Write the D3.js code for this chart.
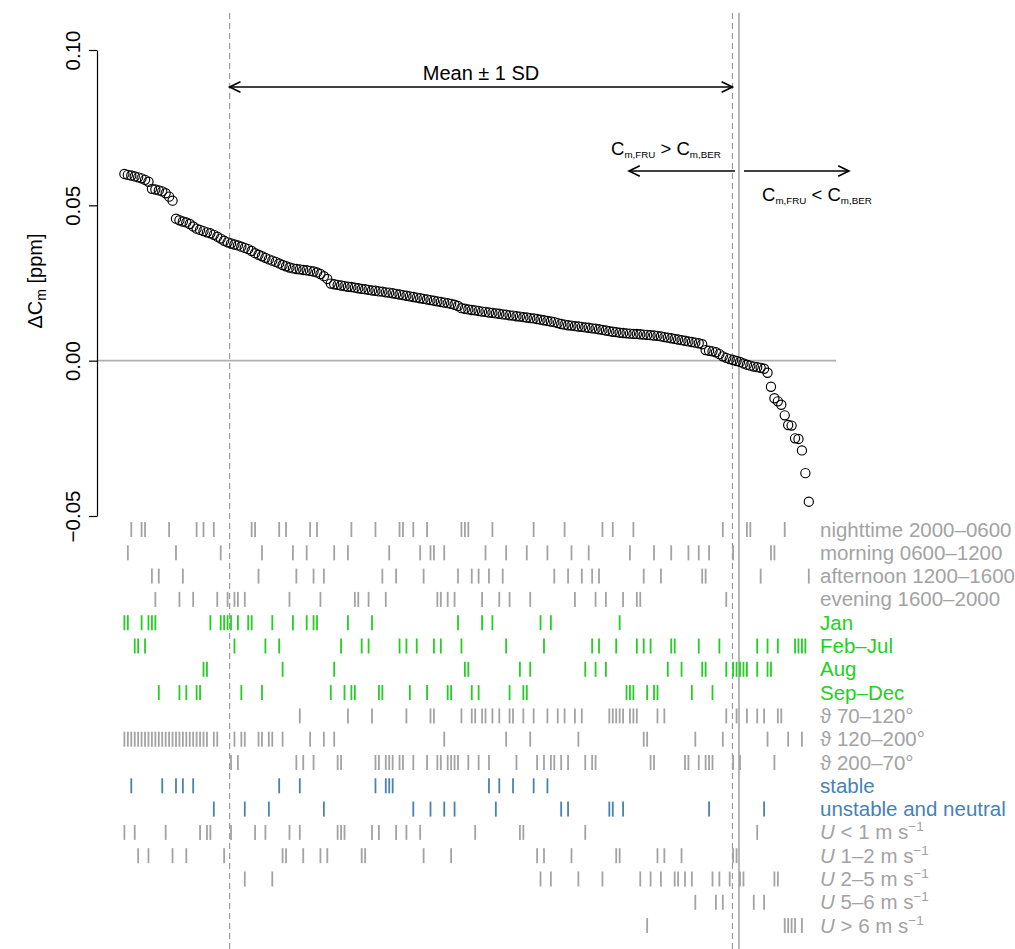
<!DOCTYPE html>
<html>
<head>
<meta charset="utf-8">
<script src="https://cdn.jsdelivr.net/npm/d3@7"></script>
<style>
  body { margin: 0; background: #fff; }
  svg { display: block; }
  text { font-family: "Liberation Sans", Arial, Helvetica, sans-serif; }
</style>
</head>
<body>
<svg id="chart" width="1015" height="949"></svg>
<script>
// Sorted concentration differences (ppm), one value per sample
const deltaC = [
  0.0601, 0.0598, 0.0596, 0.0593, 0.0590, 0.0587, 0.0582, 0.0576,
  0.0553, 0.0551, 0.0548, 0.0545, 0.0539, 0.0528, 0.0515,
  0.0457, 0.0452, 0.0448, 0.0445, 0.0440, 0.0432, 0.0425, 0.0421, 0.0417, 0.0413,
  0.0410, 0.0405, 0.0399, 0.0393, 0.0386, 0.0381,
  0.0377, 0.0374, 0.0371, 0.0367, 0.0363, 0.0359, 0.0353, 0.0346, 0.0341, 0.0336,
  0.0331, 0.0326, 0.0322, 0.0318, 0.0313, 0.0308, 0.0304, 0.0300, 0.0297,
  0.0295, 0.0294, 0.0292, 0.0291, 0.0289, 0.0287, 0.0284, 0.0279, 0.0272, 0.0263,
  0.0248, 0.0246, 0.0244, 0.0242, 0.0240, 0.0238, 0.0237, 0.0235, 0.0233, 0.0231,
  0.0230, 0.0228, 0.0226, 0.0225, 0.0223, 0.0222, 0.0220, 0.0219, 0.0217, 0.0215,
  0.0213, 0.0211, 0.0209, 0.0207, 0.0205, 0.0203, 0.0201, 0.0199, 0.0197, 0.0195,
  0.0193, 0.0191, 0.0189, 0.0187, 0.0185, 0.0183, 0.0180, 0.0176,
  0.0169, 0.0167, 0.0165, 0.0163, 0.0162, 0.0160, 0.0158, 0.0157, 0.0155, 0.0154,
  0.0152, 0.0151, 0.0149, 0.0148, 0.0146, 0.0145, 0.0143, 0.0142, 0.0140, 0.0139,
  0.0137, 0.0136, 0.0134, 0.0132, 0.0130, 0.0128, 0.0126, 0.0124, 0.0121, 0.0118,
  0.0116, 0.0114, 0.0113, 0.0111, 0.0110, 0.0109, 0.0107, 0.0106, 0.0104, 0.0103,
  0.0101, 0.0099, 0.0097, 0.0095, 0.0093, 0.0092, 0.0090, 0.0089, 0.0088, 0.0087,
  0.0086, 0.0086, 0.0085, 0.0084, 0.0083, 0.0082, 0.0081, 0.0080, 0.0078, 0.0076,
  0.0074, 0.0072, 0.0070, 0.0068, 0.0066, 0.0064, 0.0062, 0.0060, 0.0058, 0.0056,
  0.0053,
  0.0034, 0.0032, 0.0030, 0.0027, 0.0021, 0.0014, 0.0009, 0.0005, 0.0002, -0.0001,
  -0.0004, -0.0009, -0.0013, -0.0016, -0.0019, -0.0021, -0.0023, -0.0026,
  -0.0039, -0.0084, -0.0121, -0.0131, -0.0142, -0.0176, -0.0207, -0.0209,
  -0.0250, -0.0252, -0.0289, -0.0362, -0.0454
];

// Y axis tick values (ppm)
const yTicks = [-0.05, 0.00, 0.05, 0.10];

// Positions along the sorted series (sample index) of the reference lines
const sdLimits = [30.6, 176.8];   // where the series crosses mean + SD and mean - SD
const zeroCrossing = 178.7;       // where the series changes sign

// Sample indices falling in each condition class
const nighttime = [2, 5, 6, 13, 21, 23, 26, 37, 38, 45, 47, 54, 56, 66, 73, 80, 81, 84, 88, 98, 99, 100, 107, 119, 128, 139, 142, 148, 174, 181, 182, 192];
const morning = [1, 15, 28, 40, 49, 53, 61, 65, 77, 86, 89, 90, 93, 105, 111, 117, 123, 130, 135, 147, 154, 159, 164, 167, 170, 177, 188, 189];
const afternoon = [8, 10, 17, 39, 50, 55, 58, 75, 79, 87, 97, 101, 103, 106, 110, 125, 129, 133, 136, 138, 151, 156, 168, 169, 185, 199];
const evening = [9, 16, 20, 27, 30, 32, 33, 35, 48, 57, 67, 68, 71, 76, 91, 92, 94, 96, 104, 109, 112, 118, 131, 137, 140, 145, 149, 150, 175];
const jan = [0, 1, 5, 7, 8, 9, 25, 28, 29, 30, 31, 33, 36, 37, 43, 49, 53, 55, 56, 65, 72, 97, 104, 107, 121, 124, 144];
const febJul = [3, 4, 6, 32, 41, 45, 63, 69, 71, 80, 82, 85, 90, 92, 98, 111, 122, 136, 138, 143, 149, 151, 153, 159, 160, 167, 173, 184, 187, 190, 195, 196, 197, 198];
const aug = [23, 24, 46, 61, 99, 100, 115, 118, 134, 137, 140, 158, 162, 168, 169, 175, 177, 178, 179, 180, 181, 184, 187, 188];
const sepDec = [10, 16, 18, 21, 22, 34, 40, 60, 64, 66, 67, 74, 75, 83, 88, 94, 95, 101, 103, 112, 116, 117, 146, 147, 148, 152, 154, 155, 165, 171];
const dir70to120 = [51, 65, 72, 82, 89, 90, 98, 101, 102, 104, 105, 107, 109, 112, 113, 116, 119, 123, 126, 128, 131, 133, 141, 142, 143, 144, 145, 147, 148, 149, 155, 157, 175, 178, 181, 184, 186, 190, 191];
const dir120to200 = [0, 1, 2, 3, 4, 5, 6, 7, 8, 9, 10, 11, 12, 13, 14, 15, 16, 17, 18, 19, 20, 21, 22, 23, 24, 26, 27, 32, 34, 35, 39, 40, 42, 43, 46, 54, 58, 61, 93, 111, 118, 132, 151, 152, 166, 174, 187, 193, 197];
const dir200to70 = [31, 33, 50, 52, 55, 62, 63, 73, 74, 76, 77, 78, 80, 81, 84, 88, 91, 92, 94, 95, 96, 97, 100, 103, 106, 114, 120, 122, 124, 125, 127, 129, 134, 136, 137, 153, 154, 163, 164, 167, 169, 170, 171, 177, 179, 189];
const stable = [2, 11, 15, 17, 20, 45, 51, 73, 76, 77, 78, 106, 109, 113, 119, 123];
const unstableNeutral = [26, 35, 42, 58, 84, 89, 93, 96, 108, 127, 129, 141, 142, 145, 170, 186];
const windBelow1 = [0, 3, 12, 22, 24, 25, 31, 38, 41, 48, 51, 62, 63, 64, 72, 74, 79, 82, 86, 102, 115, 116, 134, 184];
const wind1to2 = [4, 7, 14, 18, 29, 46, 47, 52, 57, 59, 69, 70, 87, 95, 120, 122, 130, 143, 144, 155, 157, 162, 177, 178];
const wind2to5 = [35, 43, 121, 124, 132, 139, 150, 153, 156, 160, 161, 163, 165, 171, 173, 176, 179, 180, 189, 190];
const wind5to6 = [166, 172, 174, 183, 186];
const windAbove6 = [152, 192, 193, 194, 195, 197];

// Class labels
const timeLabels = ["nighttime 2000\u20130600", "morning 0600\u20131200", "afternoon 1200\u20131600", "evening 1600\u20132000"];
const monthLabels = ["Jan", "Feb\u2013Jul", "Aug", "Sep\u2013Dec"];
const dirLabels = ["70\u2013120\u00b0", "120\u2013200\u00b0", "200\u201370\u00b0"];
const stabilityLabels = ["stable", "unstable and neutral"];
const windLabels = ["< 1", "1\u20132", "2\u20135", "5\u20136", "> 6"];

const grey = "#a3a3a3";
const green = "#22d022";
const blue = "#4682b4";

const rows = [
  ...[nighttime, morning, afternoon, evening].map((idx, i) => ({ idx, color: grey, kind: "plain", text: timeLabels[i] })),
  ...[jan, febJul, aug, sepDec].map((idx, i) => ({ idx, color: green, kind: "plain", text: monthLabels[i] })),
  ...[dir70to120, dir120to200, dir200to70].map((idx, i) => ({ idx, color: grey, kind: "dir", text: dirLabels[i] })),
  ...[stable, unstableNeutral].map((idx, i) => ({ idx, color: blue, kind: "plain", text: stabilityLabels[i] })),
  ...[windBelow1, wind1to2, wind2to5, wind5to6, windAbove6].map((idx, i) => ({ idx, color: grey, kind: "wind", text: windLabels[i] }))
];

const svg = d3.select("#chart");
const W = 1015, H = 949;

const x = d3.scaleLinear().domain([0, deltaC.length - 1]).range([124.4, 808.8]);
const y = d3.scaleLinear().domain([-0.05, 0.10]).range([516, 50]);

const rowY = d3.scaleLinear().domain([0, 1]).range([529.5, 552.8]);

// Reference lines spanning the whole figure
svg.append("g").selectAll("line").data(sdLimits).join("line")
  .attr("x1", d => x(d)).attr("x2", d => x(d))
  .attr("y1", 13).attr("y2", H)
  .attr("stroke", "#9a9a9a").attr("stroke-width", 1.2)
  .attr("stroke-dasharray", "6,4");

svg.append("line")
  .attr("x1", x(zeroCrossing)).attr("x2", x(zeroCrossing))
  .attr("y1", 13).attr("y2", H)
  .attr("stroke", "#9a9a9a").attr("stroke-width", 1.4);

// Zero line across the plot region
svg.append("line")
  .attr("x1", 97).attr("x2", 836)
  .attr("y1", y(0)).attr("y2", y(0))
  .attr("stroke", "#b0b0b0").attr("stroke-width", 1.6);

// Y axis
const yAxis = d3.axisLeft(y).tickValues(yTicks).tickFormat(d3.format(".2f")).tickSize(8).tickSizeOuter(0);
const gy = svg.append("g").attr("transform", "translate(97,0)").call(yAxis);
gy.select(".domain").attr("stroke", "#000").attr("stroke-width", 1.2);
gy.selectAll(".tick line").attr("stroke", "#000").attr("stroke-width", 1.2);
gy.selectAll(".tick text")
  .attr("transform", "rotate(-90)")
  .attr("x", 0).attr("y", -17).attr("dy", 0)
  .attr("text-anchor", "middle")
  .attr("font-size", 20.5)
  .attr("fill", "#000");

// Y axis title: ΔC_m [ppm]
const yTitle = svg.append("text")
  .attr("transform", "translate(42,281) rotate(-90)")
  .attr("text-anchor", "middle")
  .attr("font-size", 20).attr("fill", "#000");
yTitle.append("tspan").text("\u0394C");
yTitle.append("tspan").attr("font-size", 14).attr("dy", 4).text("m");
yTitle.append("tspan").attr("dy", -4).text(" [ppm]");

// Sorted data points
svg.append("g").selectAll("circle").data(deltaC).join("circle")
  .attr("cx", (d, i) => x(i))
  .attr("cy", d => y(d))
  .attr("r", 4.6)
  .attr("fill", "none")
  .attr("stroke", "#000")
  .attr("stroke-width", 1.15);

// Arrow helper: a line with open V heads
function arrow(g, x1, x2, yy, heads) {
  g.append("line").attr("x1", x1).attr("x2", x2).attr("y1", yy).attr("y2", yy)
    .attr("stroke", "#000").attr("stroke-width", 1.6);
  const len = 12, ang = Math.PI / 7;
  heads.forEach(([tip, dir]) => {
    const pts = [
      [tip + dir * len * Math.cos(ang), yy - len * Math.sin(ang)],
      [tip, yy],
      [tip + dir * len * Math.cos(ang), yy + len * Math.sin(ang)]
    ];
    g.append("path").attr("d", d3.line()(pts))
      .attr("fill", "none").attr("stroke", "#000").attr("stroke-width", 1.6);
  });
}

const ann = svg.append("g");
const sdL = x(sdLimits[0]), sdR = x(sdLimits[1]), zx = x(zeroCrossing);
arrow(ann, sdL, sdR, 87, [[sdL, 1], [sdR, -1]]);
ann.append("text").attr("x", (sdL + sdR) / 2).attr("y", 80)
  .attr("text-anchor", "middle").attr("font-size", 20).attr("fill", "#000")
  .text("Mean \u00b1 1 SD");

arrow(ann, zx - 4, zx - 110, 171, [[zx - 110, 1]]);
arrow(ann, zx + 5, zx + 110, 171, [[zx + 110, -1]]);

function concLabel(g, xx, yy, op) {
  const t = g.append("text").attr("x", xx).attr("y", yy).attr("font-size", 18.5).attr("fill", "#000");
  t.append("tspan").text("C");
  t.append("tspan").attr("font-size", 9.8).attr("dy", 3).text("m,FRU");
  t.append("tspan").attr("dy", -3).text(" " + op + " C");
  t.append("tspan").attr("font-size", 9.8).attr("dy", 3).text("m,BER");
}
concLabel(ann, 611, 155, ">");
concLabel(ann, 762, 201, "<");

// Rug rows with class labels
const rugG = svg.append("g");
rows.forEach((r, i) => {
  const cy = rowY(i);
  rugG.append("g").selectAll("line").data(r.idx).join("line")
    .attr("x1", d => x(d)).attr("x2", d => x(d))
    .attr("y1", cy - 7.5).attr("y2", cy + 7.5)
    .attr("stroke", r.color).attr("stroke-width", 1.8);

  const t = rugG.append("text").attr("x", 820).attr("y", cy + 7)
    .attr("font-size", 20.5).attr("fill", r.color);
  if (r.kind === "plain") {
    t.text(r.text);
  } else if (r.kind === "dir") {
    t.append("tspan").text("\u03d1 ");
    t.append("tspan").text(r.text);
  } else {
    t.append("tspan").attr("font-style", "italic").text("U");
    t.append("tspan").text(" " + r.text + " m s");
    t.append("tspan").attr("font-size", 13.5).attr("dy", -8).text("\u22121");
  }
});
</script>
</body>
</html>
